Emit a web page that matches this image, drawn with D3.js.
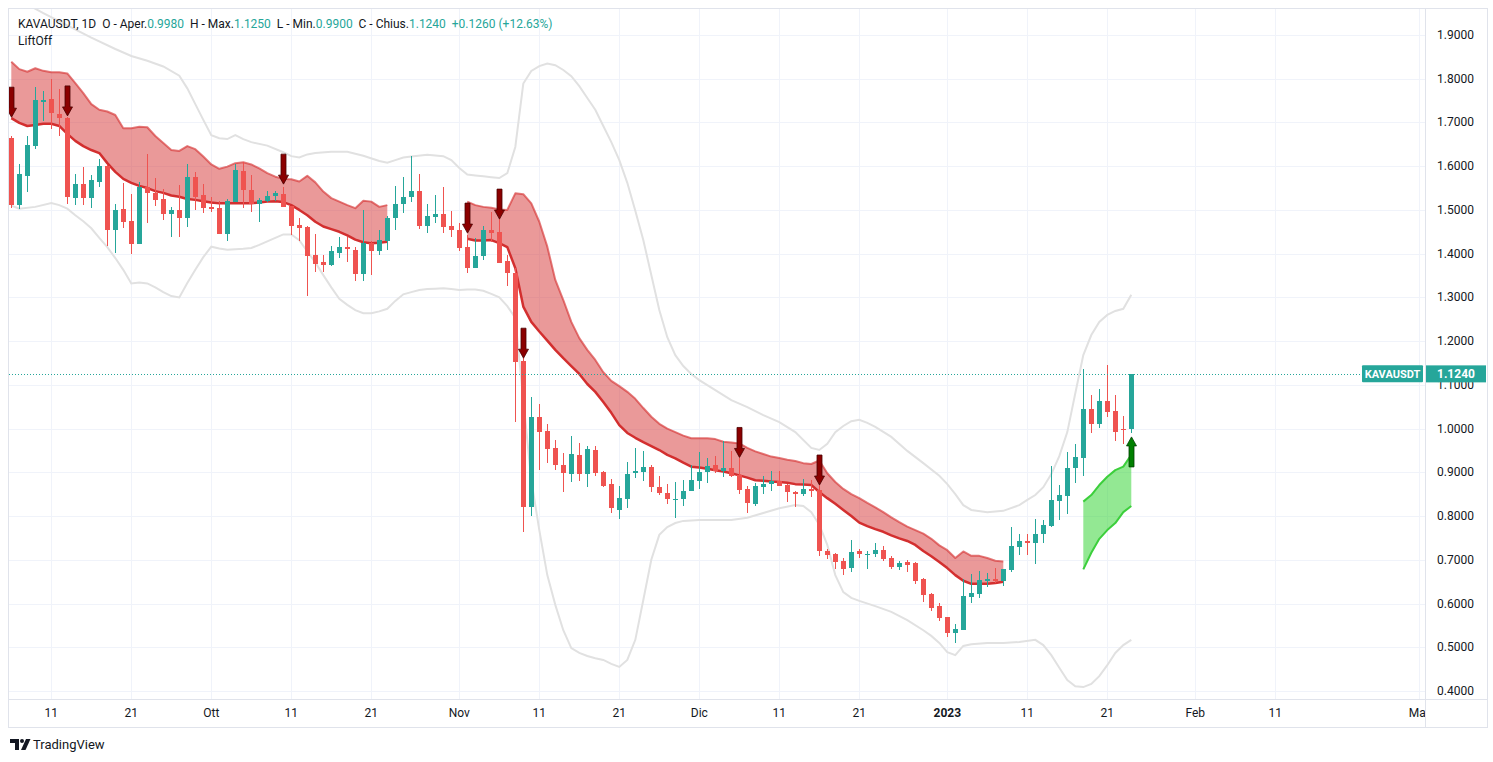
<!DOCTYPE html>
<html><head><meta charset="utf-8">
<script src="https://cdn.jsdelivr.net/npm/d3@7"></script>
<style>body{margin:0;background:#fff;} svg{display:block;font-family:Roboto,"Noto Sans",sans-serif;}</style>
</head><body><svg id="c" width="1493" height="762"></svg>
<script>
// ---------------- DATA ----------------
const startDate = "2022-09-06";   // first daily candle (index 0)
const open = [1.665,1.511,1.578,1.646,1.746,1.754,1.720,1.710,1.528,1.559,
1.528,1.565,1.600,1.454,1.502,1.474,1.423,1.553,1.539,1.525,
1.491,1.500,1.482,1.576,1.534,1.507,1.505,1.446,1.518,1.589,
1.546,1.513,1.521,1.533,1.536,1.509,1.465,1.462,1.397,1.381,
1.374,1.402,1.416,1.408,1.353,1.425,1.405,1.430,1.482,1.514,
1.530,1.543,1.463,1.483,1.491,1.463,1.454,1.415,1.368,1.395,
1.454,1.450,1.383,1.356,1.155,0.821,1.027,0.995,0.955,0.917,
0.896,0.940,0.896,0.950,0.901,0.873,0.814,0.838,0.898,0.901,
0.912,0.866,0.852,0.838,0.838,0.858,0.880,0.900,0.917,0.903,
0.911,0.895,0.862,0.828,0.867,0.873,0.880,0.871,0.856,0.850,
0.862,0.860,0.720,0.713,0.698,0.682,0.719,0.711,0.713,0.722,
0.704,0.684,0.695,0.693,0.656,0.622,0.595,0.570,0.532,0.539,
0.616,0.622,0.652,0.656,0.652,0.677,0.730,0.743,0.738,0.758,
0.778,0.835,0.847,0.909,0.933,1.045,1.010,1.063,1.040,1.000,
0.998];
const high = [1.670,1.605,1.669,1.780,1.772,1.799,1.777,1.712,1.582,1.598,
1.580,1.617,1.602,1.514,1.561,1.536,1.563,1.627,1.573,1.548,
1.506,1.557,1.605,1.586,1.559,1.529,1.520,1.524,1.606,1.609,
1.580,1.527,1.543,1.543,1.553,1.510,1.482,1.463,1.445,1.397,
1.418,1.437,1.437,1.416,1.500,1.430,1.454,1.486,1.555,1.576,
1.623,1.582,1.514,1.534,1.552,1.498,1.469,1.443,1.435,1.463,
1.496,1.481,1.397,1.368,1.161,1.073,1.057,1.011,0.974,0.944,
0.983,0.968,0.960,0.960,0.902,0.884,0.869,0.924,0.955,0.949,
0.917,0.892,0.873,0.879,0.882,0.917,0.946,0.932,0.937,0.972,
0.949,0.933,0.869,0.875,0.892,0.904,0.904,0.873,0.858,0.884,
0.882,0.870,0.724,0.716,0.705,0.745,0.725,0.721,0.739,0.732,
0.709,0.697,0.700,0.695,0.658,0.625,0.602,0.570,0.553,0.656,
0.668,0.675,0.669,0.681,0.679,0.775,0.759,0.759,0.793,0.791,
0.914,0.871,0.947,0.965,1.136,1.077,1.090,1.145,1.077,1.029,
1.125];
const low = [1.505,1.501,1.542,1.639,1.703,1.684,1.670,1.514,1.511,1.511,
1.505,1.552,1.418,1.402,1.459,1.399,1.423,1.471,1.510,1.477,
1.437,1.437,1.462,1.500,1.494,1.496,1.446,1.430,1.518,1.505,
1.496,1.473,1.517,1.520,1.506,1.443,1.429,1.304,1.359,1.359,
1.372,1.389,1.380,1.338,1.338,1.351,1.397,1.408,1.453,1.494,
1.517,1.456,1.448,1.469,1.447,1.437,1.406,1.356,1.367,1.386,
1.427,1.378,1.325,1.014,0.764,0.800,0.905,0.921,0.905,0.856,
0.879,0.881,0.867,0.892,0.867,0.808,0.793,0.818,0.886,0.881,
0.856,0.848,0.828,0.795,0.823,0.858,0.863,0.875,0.898,0.890,
0.890,0.850,0.808,0.823,0.850,0.858,0.869,0.833,0.821,0.846,
0.843,0.709,0.701,0.680,0.665,0.672,0.705,0.678,0.707,0.698,
0.678,0.677,0.673,0.645,0.604,0.584,0.561,0.524,0.509,0.539,
0.602,0.612,0.637,0.646,0.641,0.673,0.711,0.711,0.690,0.738,
0.776,0.791,0.804,0.876,0.892,0.991,1.001,1.027,0.972,0.965,
0.990];
const close = [1.512,1.582,1.648,1.751,1.752,1.721,1.711,1.530,1.559,1.528,
1.568,1.600,1.454,1.500,1.473,1.423,1.553,1.538,1.523,1.491,
1.500,1.482,1.576,1.530,1.505,1.502,1.446,1.520,1.591,1.546,
1.514,1.523,1.533,1.539,1.507,1.463,1.459,1.395,1.377,1.375,
1.406,1.416,1.410,1.353,1.424,1.407,1.431,1.481,1.514,1.530,
1.543,1.463,1.486,1.491,1.462,1.453,1.414,1.368,1.395,1.454,
1.448,1.379,1.355,1.153,0.821,1.027,0.993,0.954,0.917,0.898,
0.942,0.896,0.953,0.899,0.869,0.818,0.841,0.896,0.904,0.912,
0.866,0.852,0.838,0.840,0.857,0.882,0.900,0.914,0.903,0.911,
0.892,0.860,0.829,0.869,0.873,0.880,0.869,0.856,0.850,0.862,
0.858,0.719,0.711,0.695,0.680,0.717,0.713,0.713,0.722,0.702,
0.684,0.692,0.688,0.652,0.620,0.590,0.568,0.532,0.542,0.617,
0.623,0.654,0.657,0.652,0.679,0.732,0.744,0.738,0.759,0.780,
0.837,0.848,0.911,0.936,1.045,1.010,1.063,1.039,0.993,0.998,
1.124];

// Bollinger-style grey envelope (day index, price)
const bbUpperDay = [0,4,7,10,13,15,17,19,21,22,23,24,25,26,27,28,29,30,32,34,35,36,37,38,40,42,44,46,47,48,49,50,52,54,55,56,57,58,59,60,61,62,63,64,65,66,67,68,69,70,71,72,73,74,75,76,77,78,79,80,81,82,83,84,85,86,88,90,92,94,96,98,100,101,102,103,104,105,106,107,108,110,112,114,116,117,118,119,120,122,124,126,127,128,129,130,131,132,133,134,135,136,137,138,139,140];
const bbUpperVal = [1.990,1.950,1.922,1.894,1.868,1.852,1.841,1.828,1.807,1.778,1.742,1.706,1.671,1.664,1.662,1.671,1.662,1.655,1.647,1.632,1.623,1.620,1.627,1.630,1.633,1.633,1.624,1.612,1.608,1.614,1.620,1.622,1.626,1.623,1.614,1.596,1.581,1.579,1.577,1.575,1.573,1.584,1.644,1.789,1.818,1.829,1.835,1.831,1.820,1.806,1.783,1.756,1.729,1.692,1.655,1.614,1.562,1.498,1.431,1.351,1.271,1.209,1.168,1.143,1.125,1.111,1.088,1.065,1.049,1.031,1.015,0.992,0.956,0.951,0.965,0.992,1.006,1.017,1.020,1.013,1.004,0.981,0.949,0.921,0.892,0.873,0.850,0.825,0.814,0.809,0.812,0.825,0.837,0.848,0.866,0.896,0.937,0.992,1.081,1.168,1.214,1.244,1.260,1.269,1.274,1.306];
const bbLowerDay = [0,1,3,5,6,7,8,9,10,11,12,13,14,15,16,17,18,19,20,21,22,23,24,25,26,27,28,29,30,31,32,33,34,35,36,37,38,39,40,41,42,43,44,45,46,47,48,49,50,51,52,53,54,55,56,57,58,59,60,61,62,63,64,65,66,67,68,69,70,71,72,73,74,75,76,77,78,79,80,81,82,83,84,86,88,90,92,94,96,98,99,100,101,102,103,104,105,106,108,110,112,114,115,116,117,118,119,120,122,124,126,128,129,130,131,132,133,134,135,136,137,138,139,140];
const bbLowerVal = [1.510,1.503,1.507,1.516,1.511,1.503,1.488,1.474,1.458,1.436,1.415,1.390,1.363,1.332,1.334,1.332,1.323,1.312,1.303,1.300,1.333,1.363,1.392,1.416,1.412,1.409,1.410,1.411,1.413,1.420,1.428,1.436,1.444,1.444,1.431,1.405,1.380,1.351,1.323,1.297,1.283,1.271,1.264,1.264,1.268,1.274,1.292,1.307,1.312,1.317,1.319,1.320,1.321,1.319,1.317,1.318,1.318,1.315,1.308,1.300,1.280,1.253,1.065,0.882,0.768,0.665,0.597,0.539,0.498,0.487,0.480,0.475,0.471,0.462,0.455,0.471,0.517,0.608,0.700,0.757,0.775,0.784,0.789,0.791,0.791,0.791,0.796,0.807,0.818,0.825,0.823,0.809,0.780,0.734,0.665,0.626,0.613,0.606,0.594,0.581,0.562,0.539,0.526,0.510,0.489,0.482,0.503,0.507,0.510,0.510,0.512,0.517,0.505,0.482,0.453,0.425,0.411,0.409,0.416,0.434,0.459,0.487,0.505,0.517];

// LiftOff cloud segments (consecutive days from a start index)
const band1Start = 0;
const band1Upper = [1.839,1.822,1.816,1.824,1.818,1.815,1.815,1.812,1.790,1.767,1.742,1.729,1.725,1.717,1.687,1.687,1.690,1.689,1.669,1.653,1.637,1.635,1.646,1.639,1.622,1.604,1.594,1.599,1.607,1.609,1.604,1.595,1.584,1.576,1.571,1.570,1.565,1.578,1.563,1.542,1.527,1.519,1.511,1.504,1.521,1.519,1.507,1.511];
const band1Lower = [1.710,1.699,1.692,1.694,1.697,1.697,1.692,1.674,1.658,1.646,1.637,1.630,1.607,1.587,1.571,1.562,1.555,1.550,1.543,1.539,1.533,1.530,1.525,1.523,1.520,1.517,1.515,1.515,1.515,1.515,1.515,1.517,1.519,1.520,1.518,1.511,1.500,1.488,1.473,1.462,1.456,1.450,1.442,1.432,1.426,1.424,1.425,1.427];
const band2Start = 57;
const band2Upper = [1.519,1.511,1.507,1.505,1.501,1.500,1.538,1.536,1.515,1.473,1.416,1.340,1.294,1.244,1.207,1.180,1.157,1.129,1.109,1.097,1.084,1.068,1.047,1.027,1.011,1.000,0.992,0.984,0.978,0.978,0.978,0.976,0.970,0.968,0.966,0.956,0.948,0.942,0.936,0.933,0.929,0.926,0.921,0.919,0.927,0.898,0.878,0.862,0.850,0.841,0.830,0.820,0.809,0.797,0.786,0.776,0.768,0.760,0.748,0.733,0.722,0.704,0.719,0.709,0.709,0.704,0.698,0.696];
const band2Lower = [1.434,1.430,1.430,1.431,1.424,1.415,1.367,1.279,1.244,1.222,1.201,1.180,1.161,1.143,1.125,1.102,1.084,1.061,1.036,1.008,0.990,0.979,0.969,0.960,0.951,0.940,0.932,0.922,0.913,0.911,0.908,0.905,0.902,0.898,0.893,0.888,0.882,0.881,0.879,0.878,0.876,0.873,0.872,0.871,0.855,0.841,0.828,0.814,0.800,0.785,0.777,0.770,0.764,0.756,0.749,0.743,0.734,0.720,0.708,0.695,0.681,0.665,0.652,0.645,0.645,0.645,0.647,0.650];
const band3Start = 134;
const band3Upper = [0.833,0.848,0.871,0.890,0.905,0.913,0.940];
const band3Lower = [0.678,0.716,0.748,0.768,0.784,0.809,0.823];

// signal arrows
const downDays = [0,7,34,57,61,64,91,101];
const downTip  = [1.712,1.715,1.559,1.447,1.479,1.161,0.934,0.871];
const upDays = [140];
const upTip  = [0.981];

// axes
const priceTicks = [0.4,0.5,0.6,0.7,0.8,0.9,1.0,1.1,1.2,1.3,1.4,1.5,1.6,1.7,1.8,1.9];
const timeTicks = ["2022-09-11","2022-09-21","2022-10-01","2022-10-11","2022-10-21","2022-11-01","2022-11-11","2022-11-21","2022-12-01","2022-12-11","2022-12-21","2023-01-01","2023-01-11","2023-01-21","2023-02-01","2023-02-11","2023-03-01"];
const timeLabels = ["11","21","Ott","11","21","Nov","11","21","Dic","11","21","2023","11","21","Feb","11","Mar"];
const lastPrice = 1.124;
const symbol = "KAVAUSDT";

// ---------------- DRAW ----------------
const W = 1493, H = 762;
const L = 9, R = 1425, T = 9, B = 699, RB = 1487, BB = 727;
const parse = d3.utcParse("%Y-%m-%d");
const day0 = parse(startDate);
const dayDate = i => d3.utcDay.offset(day0, i);
const x = d3.scaleUtc().domain([day0, parse("2023-03-01")]).range([11.3, 11.3 + 8*176]);
const y = d3.scaleLinear().domain([0.4, 1.9]).range([691, 35]);
const GREEN = "#26a69a", RED = "#ef5350", TXT = "#131722";

const svg = d3.select("#c");
svg.append("rect").attr("width", W).attr("height", H).attr("fill", "#fff");
const defs = svg.append("defs");
defs.append("clipPath").attr("id", "plot").append("rect").attr("x", L).attr("y", T).attr("width", R - L).attr("height", B - T);
defs.append("clipPath").attr("id", "taxis").append("rect").attr("x", L).attr("y", B).attr("width", R - L).attr("height", BB - B);
defs.append("clipPath").attr("id", "pax").append("rect").attr("x", R + 1).attr("y", T).attr("width", RB - R - 1).attr("height", B - T);

// grid
const grid = svg.append("g").attr("shape-rendering", "crispEdges").attr("stroke", "#f0f3fa").attr("stroke-width", 1);
grid.selectAll(".h").data(priceTicks).join("line")
  .attr("x1", L).attr("x2", R).attr("y1", d => Math.round(y(d)) + 0.5).attr("y2", d => Math.round(y(d)) + 0.5);
grid.selectAll(".v").data(timeTicks).join("line")
  .attr("x1", d => Math.round(x(parse(d))) + 0.5).attr("x2", d => Math.round(x(parse(d))) + 0.5).attr("y1", T).attr("y2", B);

const plot = svg.append("g").attr("clip-path", "url(#plot)");

// grey envelope
const lineXY = d3.line().x(d => x(dayDate(d[0]))).y(d => y(d[1]));
plot.append("path").attr("d", lineXY(bbUpperDay.map((d, i) => [d, bbUpperVal[i]])))
  .attr("fill", "none").attr("stroke", "#e1e1e1").attr("stroke-width", 2);
plot.append("path").attr("d", lineXY(bbLowerDay.map((d, i) => [d, bbLowerVal[i]])))
  .attr("fill", "none").attr("stroke", "#e1e1e1").attr("stroke-width", 2);

// cloud bands
function band(start, up, lo, fill, upStroke, loStroke, upW, loW) {
  const pts = up.map((u, i) => ({ d: start + i, u, l: lo[i] }));
  const area = d3.area().x(p => x(dayDate(p.d))).y0(p => y(p.l)).y1(p => y(p.u));
  plot.append("path").attr("d", area(pts)).attr("fill", fill);
  const lu = d3.line().x(p => x(dayDate(p.d))).y(p => y(p.u));
  const ll = d3.line().x(p => x(dayDate(p.d))).y(p => y(p.l));
  plot.append("path").attr("d", lu(pts)).attr("fill", "none").attr("stroke", upStroke).attr("stroke-width", upW).attr("stroke-linejoin", "round");
  plot.append("path").attr("d", ll(pts)).attr("fill", "none").attr("stroke", loStroke).attr("stroke-width", loW).attr("stroke-linejoin", "round");
}
band(band1Start, band1Upper, band1Lower, "rgba(214,52,52,0.5)", "rgba(214,52,52,0.65)", "#d32f2f", 2, 2.5);
band(band2Start, band2Upper, band2Lower, "rgba(214,52,52,0.5)", "rgba(214,52,52,0.65)", "#d32f2f", 2, 2.5);
band(band3Start, band3Upper, band3Lower, "rgba(40,210,40,0.5)", "#3ccf3c", "#3ccf3c", 2, 2);

// candles
const candles = open.map((o, i) => ({ i, o, h: high[i], l: low[i], c: close[i] }));
const cg = plot.append("g").attr("shape-rendering", "crispEdges");
cg.selectAll("line").data(candles).join("line")
  .attr("x1", d => Math.round(x(dayDate(d.i))) + 0.5).attr("x2", d => Math.round(x(dayDate(d.i))) + 0.5)
  .attr("y1", d => y(d.h)).attr("y2", d => y(d.l))
  .attr("stroke", d => d.c >= d.o ? GREEN : RED).attr("stroke-width", 1);
cg.selectAll("rect").data(candles).join("rect")
  .attr("x", d => Math.round(x(dayDate(d.i))) - 2).attr("width", 5)
  .attr("y", d => Math.round(y(Math.max(d.o, d.c))))
  .attr("height", d => Math.max(1, Math.round(y(Math.min(d.o, d.c))) - Math.round(y(Math.max(d.o, d.c)))))
  .attr("fill", d => d.c >= d.o ? GREEN : RED);

// arrows
function arrowPath(cx, tip, dir) { // dir 1 = down arrow (tip at bottom), -1 = up arrow
  const s = dir;
  return `M${cx - 2.5},${tip - s * 30} L${cx + 2.5},${tip - s * 30} L${cx + 2.5},${tip - s * 9} L${cx + 5},${tip - s * 9} L${cx},${tip} L${cx - 5},${tip - s * 9} L${cx - 2.5},${tip - s * 9} Z`;
}
plot.selectAll(".dn").data(downDays).join("path")
  .attr("d", (d, i) => arrowPath(Math.round(x(dayDate(d))) + 0.5, y(downTip[i]), 1))
  .attr("fill", "#8b0000").attr("stroke", "#4a0000").attr("stroke-width", 0.8);
plot.selectAll(".up").data(upDays).join("path")
  .attr("d", (d, i) => arrowPath(Math.round(x(dayDate(d))) + 0.5, y(upTip[i]), -1))
  .attr("fill", "#008000").attr("stroke", "#003d00").attr("stroke-width", 0.8);

// last price dotted line
svg.append("line").attr("x1", L).attr("x2", 1362).attr("y1", Math.round(y(lastPrice)) + 0.5).attr("y2", Math.round(y(lastPrice)) + 0.5)
  .attr("stroke", GREEN).attr("stroke-width", 1).attr("stroke-dasharray", "1,2");

// frame
const fr = svg.append("g").attr("stroke", "#e0e3eb").attr("fill", "none").attr("shape-rendering", "crispEdges");
fr.append("rect").attr("x", 8.5).attr("y", 8.5).attr("width", RB - 8.5).attr("height", BB - 8.5);
fr.append("line").attr("x1", R + 0.5).attr("x2", R + 0.5).attr("y1", 8).attr("y2", BB);
fr.append("line").attr("x1", 8).attr("x2", RB).attr("y1", B + 0.5).attr("y2", B + 0.5);

// price axis labels (the one under the last-price tag is only partly visible, as in the original)
const ly = y(lastPrice);
svg.append("g").attr("clip-path", "url(#pax)").selectAll("text").data(priceTicks).join("text")
  .attr("x", 1437).attr("y", d => y(d) + 4)
  .attr("font-size", 12).attr("fill", TXT).text(d => d.toFixed(4));

// last price tags
svg.append("rect").attr("x", 1362).attr("y", ly - 9).attr("width", 61).attr("height", 17).attr("rx", 1).attr("fill", GREEN);
svg.append("text").attr("x", 1392.5).attr("y", ly + 4).attr("text-anchor", "middle").attr("font-size", 11).attr("font-weight", "bold").attr("fill", "#fff").text(symbol);
svg.append("rect").attr("x", 1426).attr("y", ly - 9).attr("width", 60).attr("height", 17).attr("fill", GREEN);
svg.append("text").attr("x", 1437).attr("y", ly + 4).attr("font-size", 12).attr("font-weight", "bold").attr("fill", "#fff").text(lastPrice.toFixed(4));

// time axis labels
svg.append("g").attr("clip-path", "url(#taxis)").selectAll("text").data(timeTicks).join("text")
  .attr("x", d => x(parse(d))).attr("y", 717).attr("text-anchor", "middle")
  .attr("font-size", 12).attr("fill", TXT)
  .attr("font-weight", (d, i) => timeLabels[i] === "2023" ? "bold" : "normal")
  .text((d, i) => timeLabels[i]);

// header
const hdr = svg.append("text").attr("x", 18).attr("y", 28).attr("font-size", 12).attr("fill", TXT);
const lastI = open.length - 1;
const chg = close[lastI] - open[lastI];
const parts = [[symbol + ", 1D  O - Aper.", TXT], [open[lastI].toFixed(4), GREEN], ["  H - Max.", TXT], [high[lastI].toFixed(4), GREEN],
  ["  L - Min.", TXT], [low[lastI].toFixed(4), GREEN], ["  C - Chius.", TXT], [close[lastI].toFixed(4), GREEN],
  ["  +" + chg.toFixed(4) + " (+" + (chg / open[lastI] * 100).toFixed(2) + "%)", GREEN]];
parts.forEach(p => hdr.append("tspan").attr("fill", p[1]).style("white-space", "pre").text(p[0]));
svg.append("text").attr("x", 18).attr("y", 45).attr("font-size", 12).attr("fill", TXT).text("LiftOff");

// TradingView logo
const lg = svg.append("g").attr("fill", TXT);
lg.append("path").attr("d", "M10 739 h9 v11 h-4 v-7 h-5 z");
lg.append("circle").attr("cx", 22).attr("cy", 741).attr("r", 2);
lg.append("path").attr("d", "M26 739 h4.5 l-5 11 h-4.5 z");
svg.append("text").attr("x", 33).attr("y", 749).attr("font-size", 13).attr("fill", TXT).text("TradingView");
</script>
</body></html>
